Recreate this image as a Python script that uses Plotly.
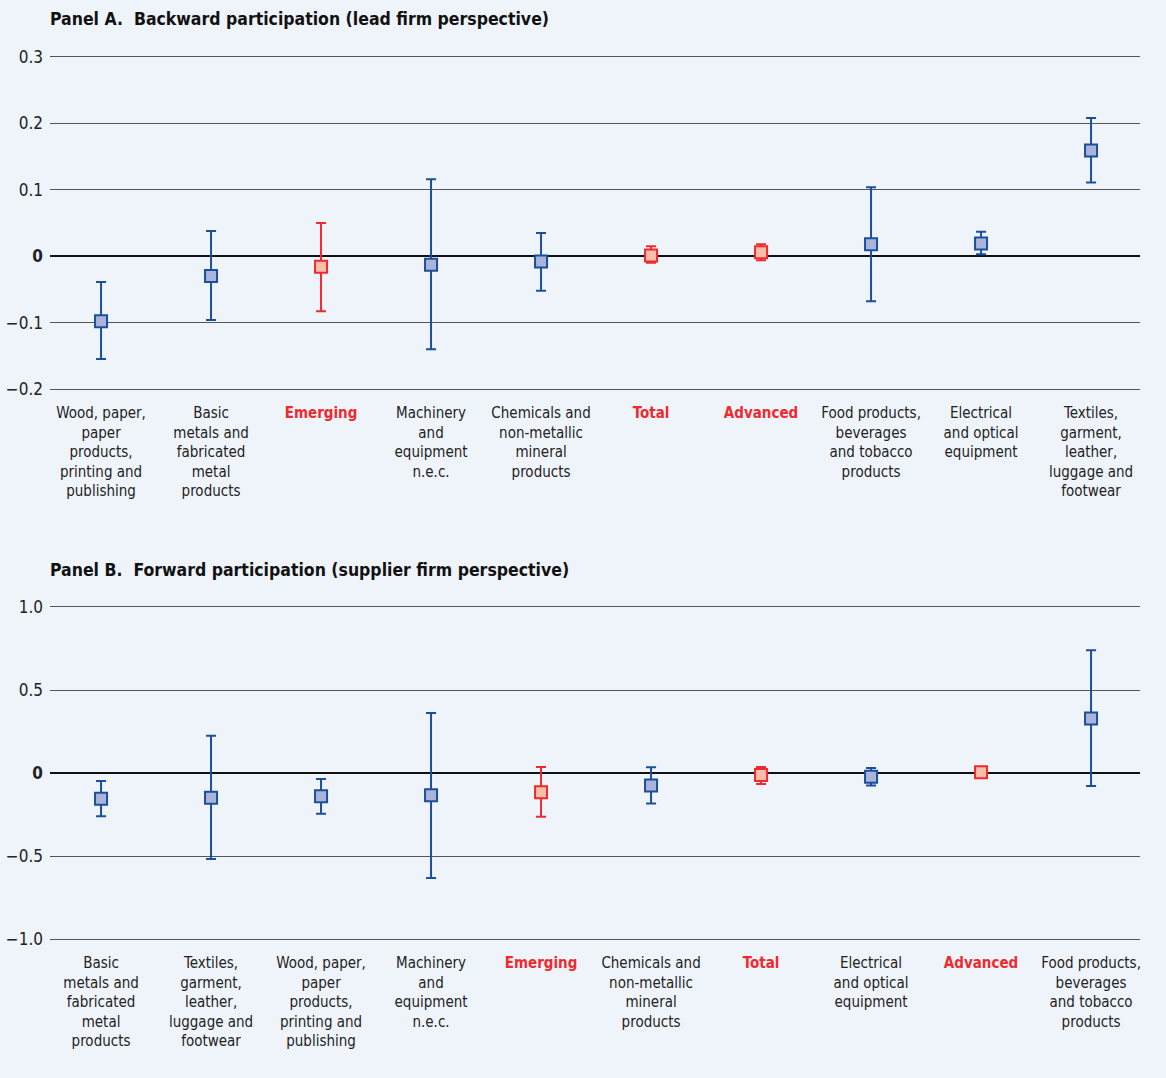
import plotly.graph_objects as go

# ---------------- Data ----------------
cats_a = ["Wood, paper,<br>paper<br>products,<br>printing and<br>publishing",
          "Basic<br>metals and<br>fabricated<br>metal<br>products",
          "Emerging",
          "Machinery<br>and<br>equipment<br>n.e.c.",
          "Chemicals and<br>non-metallic<br>mineral<br>products",
          "Total",
          "Advanced",
          "Food products,<br>beverages<br>and tobacco<br>products",
          "Electrical<br>and optical<br>equipment",
          "Textiles,<br>garment,<br>leather,<br>luggage and<br>footwear"]
est_a = [-0.098, -0.030, -0.016, -0.013, -0.008, 0.001, 0.006, 0.018, 0.019, 0.159]
hi_a = [-0.039, 0.038, 0.050, 0.116, 0.035, 0.015, 0.018, 0.104, 0.037, 0.208]
lo_a = [-0.155, -0.096, -0.083, -0.140, -0.052, -0.010, -0.006, -0.068, 0.003, 0.111]

cats_b = ["Basic<br>metals and<br>fabricated<br>metal<br>products",
          "Textiles,<br>garment,<br>leather,<br>luggage and<br>footwear",
          "Wood, paper,<br>paper<br>products,<br>printing and<br>publishing",
          "Machinery<br>and<br>equipment<br>n.e.c.",
          "Emerging",
          "Chemicals and<br>non-metallic<br>mineral<br>products",
          "Total",
          "Electrical<br>and optical<br>equipment",
          "Advanced",
          "Food products,<br>beverages<br>and tobacco<br>products"]
est_b = [-0.155, -0.149, -0.140, -0.134, -0.116, -0.076, -0.012, -0.022, 0.004, 0.329]
hi_b = [-0.048, 0.225, -0.036, 0.361, 0.036, 0.034, 0.036, 0.030, 0.022, 0.739]
lo_b = [-0.261, -0.518, -0.245, -0.633, -0.263, -0.183, -0.066, -0.076, -0.012, -0.078]

aggregates = ["Emerging", "Total", "Advanced"]

yticks_a = [0.3, 0.2, 0.1, 0, -0.1, -0.2]
yticktext_a = ["0.3", "0.2", "0.1", "<b>0</b>", "−0.1", "−0.2"]
yticks_b = [1.0, 0.5, 0, -0.5, -1.0]
yticktext_b = ["1.0", "0.5", "<b>0</b>", "−0.5", "−1.0"]

# ---------------- Style ----------------
BG = "#eff4fb"
BLUE = "#1b4f9c"
BLUE_FILL = "#aab4da"
RED = "#ee2a2e"
RED_FILL = "#f9bda9"
GRID = "#555555"
FONT = "DejaVu Sans Condensed, Liberation Sans Narrow, Arial Narrow, sans-serif"

fig = go.Figure()


def add_panel(cats, est, hi, lo, xa, ya):
    for is_agg in (False, True):
        idx = [i for i, c in enumerate(cats) if (c in aggregates) == is_agg]
        col = RED if is_agg else BLUE
        fill = RED_FILL if is_agg else BLUE_FILL
        fig.add_trace(go.Scatter(
            x=idx,
            y=[est[i] for i in idx],
            mode="markers",
            xaxis=xa, yaxis=ya,
            marker=dict(symbol="square", size=12, color=fill,
                        line=dict(color=col, width=2)),
            error_y=dict(type="data", symmetric=False,
                         array=[hi[i] - est[i] for i in idx],
                         arrayminus=[est[i] - lo[i] for i in idx],
                         color=col, thickness=2, width=5),
            showlegend=False, hoverinfo="skip"))


add_panel(cats_a, est_a, hi_a, lo_a, "x", "y")
add_panel(cats_b, est_b, hi_b, lo_b, "x2", "y2")


def ticktext(cats):
    out = []
    for c in cats:
        if c in aggregates:
            out.append(f"<span style='color:{RED}'><b>{c}</b></span>")
        else:
            out.append(c)
    return out


H = 1078
xcommon = dict(range=[-0.464, 9.445], showgrid=False, zeroline=False,
               showline=True, mirror=True, linecolor=GRID, linewidth=1,
               ticks="", tickmode="array", automargin=False,
               tickvals=list(range(10)), ticklabelstandoff=10,
               tickfont=dict(family=FONT, size=15, color="#222"))
ycommon = dict(showgrid=True, gridcolor=GRID, gridwidth=1,
               zeroline=True, zerolinecolor="#111", zerolinewidth=2,
               showline=False, ticks="", tickmode="array", automargin=False,
               ticklabelstandoff=6,
               tickfont=dict(family=FONT, size=17, color="#222"))

fig.update_layout(
    width=1166, height=H,
    paper_bgcolor=BG, plot_bgcolor=BG,
    margin=dict(l=50, r=26, t=0, b=0, pad=0, autoexpand=False),
    font=dict(family=FONT),
    xaxis=dict(**xcommon, domain=[0, 1], anchor="y", ticktext=ticktext(cats_a)),
    yaxis=dict(**ycommon, domain=[1 - 389 / H, 1 - 57 / H], range=[-0.2, 0.3],
               tickvals=yticks_a, ticktext=yticktext_a, anchor="x"),
    xaxis2=dict(**xcommon, domain=[0, 1], anchor="y2", ticktext=ticktext(cats_b)),
    yaxis2=dict(**ycommon, domain=[1 - 939 / H, 1 - 607 / H], range=[-1.0, 1.0],
                tickvals=yticks_b, ticktext=yticktext_b, anchor="x2"),
    annotations=[
        dict(text="<b>Panel A.  Backward participation (lead firm perspective)</b>",
             xref="paper", yref="paper", x=-2 / 1090, y=1 - 19 / H,
             xanchor="left", yanchor="middle", showarrow=False,
             font=dict(family=FONT, size=17.5, color="#111")),
        dict(text="<b>Panel B.  Forward participation (supplier firm perspective)</b>",
             xref="paper", yref="paper", x=-2 / 1090, y=1 - 570 / H,
             xanchor="left", yanchor="middle", showarrow=False,
             font=dict(family=FONT, size=17.5, color="#111")),
    ],
)

fig.write_html("out.html",
               config={"displayModeBar": False},
               post_script="document.body.style.margin='0';document.body.style.overflow='hidden';")
